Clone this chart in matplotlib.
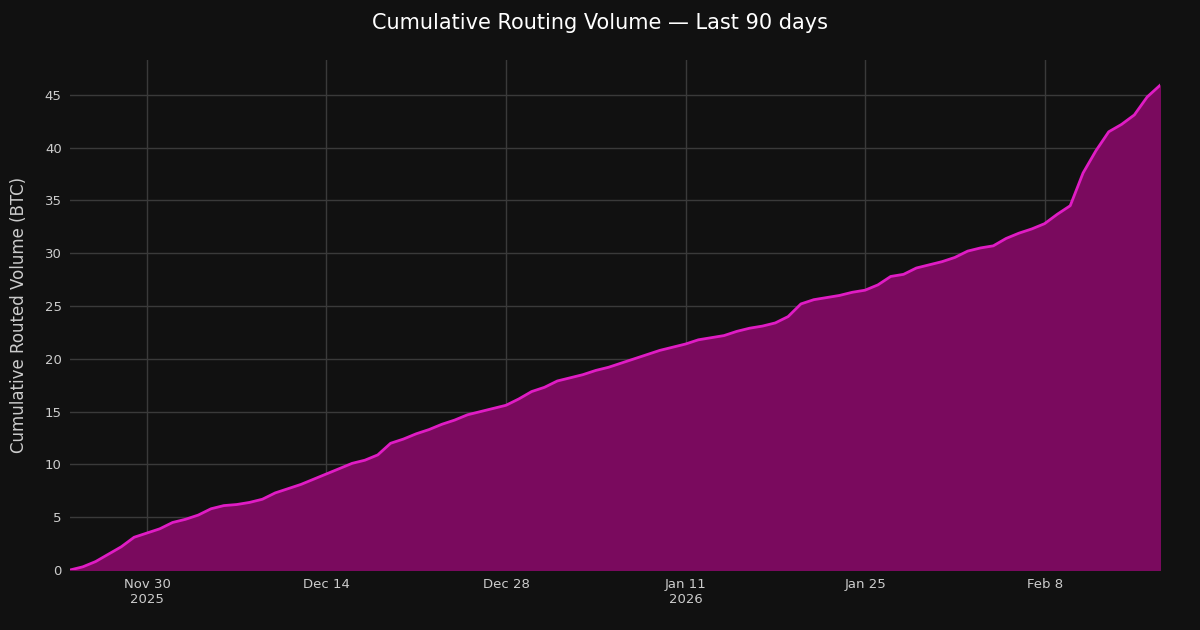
import numpy as np
import pandas as pd
import matplotlib.pyplot as plt
import matplotlib.dates as mdates

dates = pd.date_range('2025-11-24', '2026-02-17', freq='D')
volume = [0, 0.3, 0.8, 1.5, 2.2, 3.1, 3.5, 3.9, 4.5, 4.8, 5.2, 5.8, 6.1, 6.2, 6.4, 6.7,
          7.3, 7.7, 8.1, 8.6, 9.1, 9.6, 10.1, 10.4, 10.9, 12.0, 12.4, 12.9, 13.3, 13.8,
          14.2, 14.7, 15.0, 15.3, 15.6, 16.2, 16.9, 17.3, 17.9, 18.2, 18.5, 18.9, 19.2,
          19.6, 20.0, 20.4, 20.8, 21.1, 21.4, 21.8, 22.0, 22.2, 22.6, 22.9, 23.1, 23.4,
          24.0, 25.2, 25.6, 25.8, 26.0, 26.3, 26.5, 27.0, 27.8, 28.0, 28.6, 28.9, 29.2,
          29.6, 30.2, 30.5, 30.7, 31.4, 31.9, 32.3, 32.8, 33.7, 34.5, 37.6, 39.7, 41.5,
          42.2, 43.1, 44.8, 45.9]
tick_dates = pd.to_datetime(['2025-11-30', '2025-12-14', '2025-12-28',
                             '2026-01-11', '2026-01-25', '2026-02-08'])
tick_labels = ['Nov 30\n2025', 'Dec 14', 'Dec 28', 'Jan 11\n2026', 'Jan 25', 'Feb 8']

bg = '#111111'
fig = plt.figure(figsize=(12, 6.3), dpi=100, facecolor=bg)
ax = fig.add_axes([70/1200, 60/630, 1090/1200, 510/630], facecolor=bg)

ax.fill_between(dates, volume, 0, color='#7a0a5e', zorder=2)
ax.plot(dates, volume, color='#e01cc4', lw=2, zorder=3)

ax.set_xlim(dates[0], dates[-1])
ax.set_ylim(0, 48.3)
ax.set_yticks(range(0, 46, 5))
ax.set_xticks(tick_dates)
ax.set_xticklabels(tick_labels)
ax.grid(True, color='#3a3a3a', lw=1, zorder=1)
ax.set_axisbelow(True)
for s in ax.spines.values():
    s.set_visible(False)
ax.tick_params(colors='#cccccc', labelsize=9.5, length=0, pad=6)

ax.set_ylabel('Cumulative Routed Volume (BTC)', color='#cccccc', fontsize=12, labelpad=12)
fig.suptitle('Cumulative Routing Volume — Last 90 days', color='white', fontsize=15, y=0.98)

fig.savefig('out.png', facecolor=bg)
